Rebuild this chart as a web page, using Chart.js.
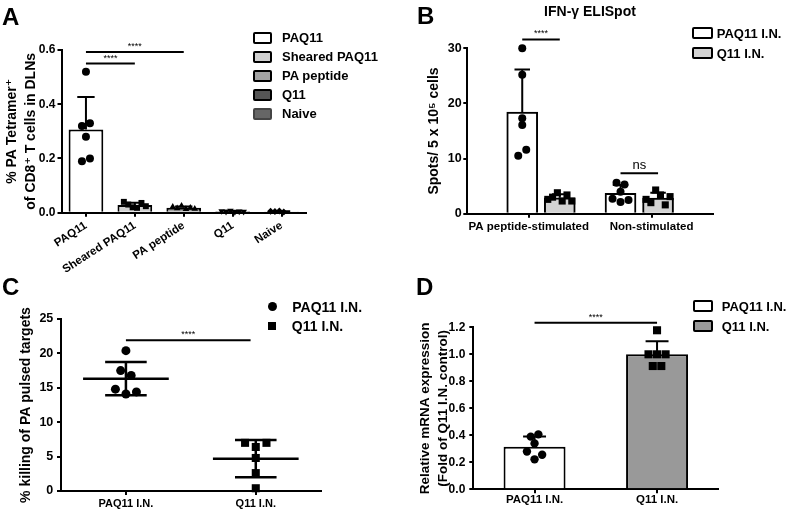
<!DOCTYPE html>
<html>
<head>
<meta charset="utf-8">
<script src="https://cdn.jsdelivr.net/npm/chart.js@4.4.0/dist/chart.umd.min.js"></script>
<style>
body { margin: 0; background: #fff; }
#wrap { position: relative; width: 790px; height: 511px; overflow: hidden; font-family: 'Liberation Sans', Arial, sans-serif; color: #000; }
canvas { position: absolute; left: 0; top: 0; }
.t { position: absolute; font-weight: bold; white-space: nowrap; line-height: 1; }
.leg { position: absolute; display: flex; align-items: center; font-weight: bold; white-space: nowrap; }
.leg span { display: inline-block; box-sizing: border-box; }
</style>
</head>
<body>
<div id="wrap">
  <canvas id="chartA" width="790" height="511"></canvas>
  <canvas id="chartB" width="790" height="511"></canvas>
  <canvas id="chartC" width="790" height="511"></canvas>
  <canvas id="chartD" width="790" height="511"></canvas>
</div>
<script>
// A - PA tetramer+ of CD8+ T cells in DLNs
var aLabels = ['PAQ11', 'Sheared PAQ11', 'PA peptide', 'Q11', 'Naive'];
var aPAQ11 = [0.52, 0.32, 0.33, 0.28, 0.19, 0.20];
var aSheared = [0.040, 0.030, 0.020, 0.018, 0.036, 0.024];
var aPeptide = [0.022, 0.016, 0.025, 0.013, 0.018, 0.014];
var aQ11 = [0.006, 0.004, 0.008, 0.003, 0.005, 0.004];
var aNaive = [0.005, 0.004, 0.006, 0.003, 0.005, 0.004];
var aColors = ['#ffffff', '#d0d0d0', '#a3a3a3', '#555555', '#666666'];
var aSig = [{from: [0, 0], to: [0, 2], y: 0.593, label: '****'}, {from: [0, 0], to: [0, 1], y: 0.55, label: '****'}];

// B - IFN-g ELISpot
var bLabels = ['PA peptide-stimulated', 'Non-stimulated'];
var bSeries = ['PAQ11 I.N.', 'Q11 I.N.'];
var bPAQ11Stim = [30, 25.2, 17.3, 16.1, 10.5, 11.6];
var bQ11Stim = [2.6, 3.0, 3.8, 2.3, 3.4, 2.3];
var bPAQ11Non = [5.6, 5.3, 4.0, 2.7, 2.1, 2.5];
var bQ11Non = [2.6, 2.0, 4.3, 3.4, 1.6, 3.1];
var bColors = ['#ffffff', '#d3d3d3'];
var bSig = [{from: [0, 0], to: [1, 0], y: 31.6, label: '****', size: 9}, {from: [0, 1], to: [1, 1], y: 7.35, label: 'ns', size: 13}];

// C - in vivo killing
var cLabels = ['PAQ11 I.N.', 'Q11 I.N.'];
var cPAQ11 = [20.4, 17.5, 16.8, 14.8, 14.1, 14.4];
var cQ11 = [7.0, 6.4, 7.0, 4.8, 2.6, 0.4];
var cSig = [{from: 0, to: 0.96, y: 21.9, label: '****'}];

// D - relative mRNA expression
var dLabels = ['PAQ11 I.N.', 'Q11 I.N.'];
var dPAQ11 = [0.39, 0.407, 0.34, 0.28, 0.222, 0.256];
var dQ11 = [1.178, 1.0, 1.0, 1.0, 0.913, 0.913];
var dColors = ['#ffffff', '#999999'];
var dSig = [{from: [0, 0], to: [0, 1], y: 1.234, label: '****'}];

var FONT = "'Liberation Sans', Arial, 'DejaVu Sans', sans-serif";
Chart.defaults.font.family = FONT;
Chart.defaults.color = '#000';
Chart.defaults.animation = false;
Chart.defaults.plugins.legend.display = false;
Chart.defaults.plugins.tooltip.enabled = false;

function mean(a) { return a.reduce(function(s, v) { return s + v; }, 0) / a.length; }
function sd(a) {
    var m = mean(a);
    return Math.sqrt(a.reduce(function(s, v) { return s + (v - m) * (v - m); }, 0) / (a.length - 1));
}

// fixed axis box so the plot areas land where the figure has them
function fixBox(size) {
    return function(s) {
        if (s.isHorizontal()) s.height = size; else s.width = size;
        s.paddingLeft = s.paddingRight = s.paddingTop = s.paddingBottom = 0;
    };
}

function yAxis(max, step, digits, width, tickSize, tickPad, title, titleSize, titleLH, titlePad) {
    return {
        min: 0, max: max,
        afterFit: fixBox(width),
        border: { color: '#000', width: 2 },
        grid: { drawOnChartArea: false, color: '#000', lineWidth: 2, tickLength: 4 },
        ticks: { stepSize: step, padding: tickPad, font: { size: tickSize, weight: 'bold' },
                 callback: function(v) { return v.toFixed(digits); } },
        title: { display: true, text: title, font: { size: titleSize, weight: 'bold', lineHeight: titleLH + 'px' },
                 padding: { top: titlePad, bottom: 0 } }
    };
}

function xAxis(height, size, rot, pad) {
    return {
        type: 'category', offset: true,
        afterFit: fixBox(height),
        border: { color: '#000', width: 2 },
        grid: { offset: false, drawOnChartArea: false, color: '#000', lineWidth: 2, tickLength: 4 },
        ticks: { font: { size: size, weight: 'bold' }, minRotation: rot, maxRotation: rot, padding: pad, autoSkip: false }
    };
}

function x2Axis(n) { return { type: 'linear', display: false, min: -0.5, max: n - 0.5 }; }

function pointSet(values, cat, bar, style, radius, gap, near, rotation) {
    return {
        type: 'scatter', xAxisID: 'x2', order: 1, clip: false, grouped: false,
        values: values, cat: cat, bar: bar, gap: gap, near: near,
        data: values.map(function(v) { return {x: cat, y: v}; }),
        pointStyle: style, pointRadius: radius, pointHoverRadius: radius, pointRotation: rotation || 0,
        pointBackgroundColor: '#000', pointBorderColor: '#000', pointBorderWidth: 0,
        backgroundColor: '#000', borderColor: '#000'
    };
}

var errorBars = {
    id: 'errorBars',
    afterDatasetDraw: function(chart, args, opts) {
        var ds = chart.data.datasets[args.index];
        if (!ds.sd) return;
        var ctx = chart.ctx, y = chart.scales.y;
        ctx.save();
        ctx.strokeStyle = '#000';
        ctx.lineWidth = 2;
        args.meta.data.forEach(function(bar, i) {
            var d = ds.data[i];
            var v = typeof d === 'object' ? d.y : d;
            var top = y.getPixelForValue(v + ds.sd[i]);
            var half = bar.width * opts.cap / 2;
            ctx.beginPath();
            ctx.moveTo(bar.x, bar.y);
            ctx.lineTo(bar.x, top);
            ctx.moveTo(bar.x - half, top);
            ctx.lineTo(bar.x + half, top);
            ctx.stroke();
        });
        ctx.restore();
    }
};

var sigBars = {
    id: 'sigBars',
    afterDraw: function(chart, args, opts) {
        var ctx = chart.ctx, x2 = chart.scales.x2, y = chart.scales.y;
        function px(ref) {
            if (Array.isArray(ref)) return chart.getDatasetMeta(ref[0]).data[ref[1]].x;
            return x2.getPixelForValue(ref);
        }
        ctx.save();
        opts.items.forEach(function(s) {
            var xa = px(s.from), xb = px(s.to), py = y.getPixelForValue(s.y);
            ctx.strokeStyle = '#000';
            ctx.lineWidth = 2;
            ctx.beginPath();
            ctx.moveTo(xa, py);
            ctx.lineTo(xb, py);
            ctx.stroke();
            ctx.fillStyle = '#000';
            ctx.font = (s.size || opts.size) + 'px ' + FONT;
            ctx.textAlign = 'center';
            ctx.textBaseline = 'bottom';
            ctx.fillText(s.label, (xa + xb) / 2, py - 1);
        });
        ctx.restore();
    }
};

var meanSd = {
    id: 'meanSd',
    afterDatasetsDraw: function(chart, args, opts) {
        var ctx = chart.ctx, x2 = chart.scales.x2, y = chart.scales.y;
        var unit = x2.getPixelForValue(1) - x2.getPixelForValue(0);
        ctx.save();
        ctx.strokeStyle = '#000';
        ctx.lineWidth = 2.5;
        chart.data.datasets.forEach(function(ds) {
            if (!ds.values) return;
            var m = mean(ds.values), s = sd(ds.values);
            var cx = x2.getPixelForValue(ds.cat);
            var ym = y.getPixelForValue(m), yt = y.getPixelForValue(m + s), yb = y.getPixelForValue(m - s);
            var hm = unit * opts.meanHalf, hc = unit * opts.capHalf;
            ctx.beginPath();
            ctx.moveTo(cx - hm, ym); ctx.lineTo(cx + hm, ym);
            ctx.moveTo(cx - hc, yt); ctx.lineTo(cx + hc, yt);
            ctx.moveTo(cx - hc, yb); ctx.lineTo(cx + hc, yb);
            ctx.moveTo(cx, yt); ctx.lineTo(cx, yb);
            ctx.stroke();
        });
        ctx.restore();
    }
};

// spread points that sit at about the same height, like a column scatter
function swarm(chart) {
    var xs = chart.scales.x2, ys = chart.scales.y;
    var perUnit = xs.width / (xs.max - xs.min);
    chart.data.datasets.forEach(function(ds) {
        if (!ds.values) return;
        var center = ds.cat;
        if (ds.bar !== undefined) center = xs.getValueForPixel(chart.getDatasetMeta(ds.bar).data[ds.cat].x);
        var pts = ds.values.map(function(v, i) { return {v: v, i: i, py: ys.getPixelForValue(v)}; })
            .sort(function(a, b) { return a.py - b.py; });
        var out = [], cluster = [];
        function flush() {
            cluster.sort(function(a, b) { return a.i - b.i; });
            cluster.forEach(function(p, j) {
                out[p.i] = {x: center + (j - (cluster.length - 1) / 2) * ds.gap / perUnit, y: p.v};
            });
            cluster = [];
        }
        pts.forEach(function(p) {
            if (cluster.length && p.py - cluster[cluster.length - 1].py >= ds.near) flush();
            cluster.push(p);
        });
        flush();
        ds.data = out;
    });
    chart.update('none');
}

// ---- panel A
var aGroups = [aPAQ11, aSheared, aPeptide, aQ11, aNaive];
var aStyles = [['circle', 4, 0], ['rect', 4.2, 0], ['triangle', 3.8, 0], ['triangle', 3.8, 180], ['rectRot', 3.5, 0]];
var aDatasets = [{
    type: 'bar', order: 2, grouped: false,
    data: aGroups.map(mean), sd: aGroups.map(sd),
    backgroundColor: aColors, borderColor: '#000', borderWidth: 2,
    categoryPercentage: 1, barPercentage: 0.71
}];
aGroups.forEach(function(g, i) {
    aDatasets.push(pointSet(g, i, 0, aStyles[i][0], aStyles[i][1], i === 0 ? 10 : 5.5, 6.5, aStyles[i][2]));
});
var chartA = new Chart(document.getElementById('chartA'), {
    type: 'bar',
    data: { labels: aLabels, datasets: aDatasets },
    options: {
        responsive: false,
        layout: { padding: { left: 0, top: 50, right: 484, bottom: 238.3 } },
        scales: {
            x: xAxis(60, 11.5, 33, 2),
            x2: x2Axis(aLabels.length),
            y: yAxis(0.6, 0.2, 1, 61.5, 12, 2, ['% PA Tetramer\u207A', 'of CD8\u207A T cells in DLNs'], 14, 19, 2.5)
        },
        plugins: { errorBars: { cap: 0.5 }, sigBars: { items: aSig, size: 9 } }
    },
    plugins: [errorBars, sigBars]
});
swarm(chartA);

// ---- panel B (the two bars of a group sit bSpread category units apart)
var bSpread = 0.382;
function bBar(k, stim, non) {
    return {
        type: 'bar', order: 2, label: bSeries[k], xAxisID: 'x2', grouped: false, barThickness: 31,
        data: [stim, non].map(function(g, i) { return {x: i + (k - 0.5) * bSpread, y: mean(g)}; }),
        sd: [sd(stim), sd(non)],
        backgroundColor: bColors[k], borderColor: '#000', borderWidth: 2
    };
}
var bDatasets = [
    bBar(0, bPAQ11Stim, bPAQ11Non),
    bBar(1, bQ11Stim, bQ11Non),
    pointSet(bPAQ11Stim, 0, 0, 'circle', 4, 10, 6.3),
    pointSet(bQ11Stim, 0, 1, 'rect', 5, 6, 6.3),
    pointSet(bPAQ11Non, 1, 0, 'circle', 4, 10, 6.3),
    pointSet(bQ11Non, 1, 1, 'rect', 5, 6, 6.3)
];
var chartB = new Chart(document.getElementById('chartB'), {
    type: 'bar',
    data: { labels: bLabels, datasets: bDatasets },
    options: {
        responsive: false,
        layout: { padding: { left: 417.3, top: 48.3, right: 77, bottom: 267.3 } },
        scales: {
            x: xAxis(30, 11.5, 0, 2),
            x2: x2Axis(bLabels.length),
            y: yAxis(30, 10, 0, 50, 12.5, 1.6, 'Spots/ 5 x 10\u2075 cells', 14, 16, 8.7)
        },
        plugins: { errorBars: { cap: 0.5 }, sigBars: { items: bSig, size: 9 } }
    },
    plugins: [errorBars, sigBars]
});
swarm(chartB);

// ---- panel C
var chartC = new Chart(document.getElementById('chartC'), {
    type: 'scatter',
    data: { labels: cLabels, datasets: [
        pointSet(cPAQ11, 0, undefined, 'circle', 4.5, 10.5, 6.5),
        pointSet(cQ11, 1, undefined, 'rect', 5.7, 10.7, 6.5)
    ] },
    options: {
        responsive: false,
        layout: { padding: { left: 11, top: 319, right: 469.3, bottom: 2 } },
        scales: {
            x: xAxis(18, 11, 0, 2.4),
            x2: x2Axis(cLabels.length),
            y: yAxis(25, 5, 0, 50, 12.5, 3.7, '% killing of PA pulsed targets', 14, 16, 7)
        },
        plugins: { meanSd: { meanHalf: 0.33, capHalf: 0.16 }, sigBars: { items: cSig, size: 9 } }
    },
    plugins: [meanSd, sigBars]
});
swarm(chartC);

// ---- panel D
var chartD = new Chart(document.getElementById('chartD'), {
    type: 'bar',
    data: { labels: dLabels, datasets: [{
        type: 'bar', order: 2, grouped: false,
        data: [mean(dPAQ11), mean(dQ11)], sd: [sd(dPAQ11), sd(dQ11)],
        backgroundColor: dColors, borderColor: '#000', borderWidth: 2,
        categoryPercentage: 1, barPercentage: 0.506
    },
        pointSet(dPAQ11, 0, 0, 'circle', 4.2, 9.5, 6.3),
        pointSet(dQ11, 1, 0, 'rect', 5.7, 10.7, 6.3)
    ] },
    options: {
        responsive: false,
        layout: { padding: { left: 415.3, top: 327.3, right: 71.7, bottom: 1.7 } },
        scales: {
            x: xAxis(20, 11.5, 0, 0),
            x2: x2Axis(dLabels.length),
            y: yAxis(1.2, 0.2, 1, 58, 12, 4, ['Relative mRNA expression', '(Fold of Q11 I.N. control)'], 13.5, 18, 0.7)
        },
        plugins: { errorBars: { cap: 0.37 }, sigBars: { items: dSig, size: 9 } }
    },
    plugins: [errorBars, sigBars]
});
swarm(chartD);

// ---- letters, title and legends
var wrap = document.getElementById('wrap');
function addText(text, left, top, size, center) {
    var d = document.createElement('div');
    d.className = 't';
    d.textContent = text;
    d.style.left = left + 'px';
    d.style.top = top + 'px';
    d.style.fontSize = size + 'px';
    if (center) d.style.transform = 'translateX(-50%)';
    wrap.appendChild(d);
}
function addLegend(left, top, rowH, size, names, swatches, gap) {
    names.forEach(function(name, i) {
        var row = document.createElement('div');
        row.className = 'leg';
        row.style.left = left + 'px';
        row.style.top = (top + i * rowH) + 'px';
        row.style.height = rowH + 'px';
        row.style.fontSize = size + 'px';
        var sw = document.createElement('span');
        for (var k in swatches[i]) sw.style[k] = swatches[i][k];
        sw.style.marginRight = gap + 'px';
        row.appendChild(sw);
        row.appendChild(document.createTextNode(name));
        wrap.appendChild(row);
    });
}
function boxSwatch(color, w, h, border) {
    return { width: w + 'px', height: h + 'px', border: '2px solid ' + (border || '#000'), borderRadius: '2px', background: color };
}

addText('A', 2, 5, 24);
addText('B', 417, 4, 24);
addText('C', 2, 275, 24);
addText('D', 416, 275, 24);
addText('IFN-\u03B3 ELISpot', 590, 4, 14, true);

addLegend(253, 28.2, 19, 13, aLabels, aColors.map(function(c, i) {
    return boxSwatch(c, 19, 12, i === 4 ? '#444' : '#000');
}), 10);
addLegend(691.7, 23.3, 20, 13, bSeries, bColors.map(function(c) { return boxSwatch(c, 21, 12); }), 4);
addLegend(267.8, 297, 19.3, 14, cLabels, [
    { width: '9px', height: '9px', borderRadius: '50%', background: '#000' },
    { width: '8px', height: '8px', background: '#000', marginLeft: '0.5px' }
], 15.5);
addLegend(693.3, 296, 20, 13, dLabels, dColors.map(function(c) { return boxSwatch(c, 19.4, 12); }), 9);
</script>
</body>
</html>
